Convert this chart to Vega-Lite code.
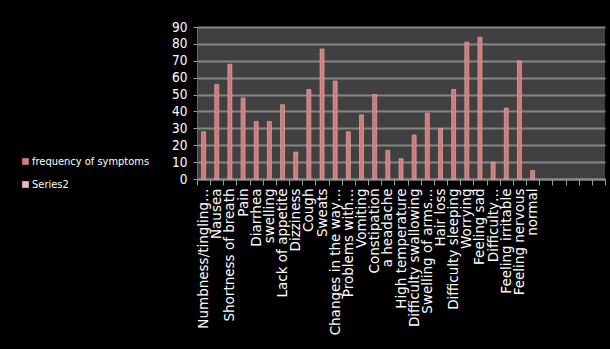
{
  "$schema": "https://vega.github.io/schema/vega-lite/v6.json",
  "autosize": {"type": "none"},
  "width": 408,
  "height": 152,
  "padding": {"left": 197, "top": 27, "right": 5, "bottom": 170},
  "background": "#000000",
  "data": {
    "values": [
      {"symptom": "Numbness/tingling…", "series": "frequency of symptoms", "count": 28},
      {"symptom": "Nausea", "series": "frequency of symptoms", "count": 56},
      {"symptom": "Shortness of breath", "series": "frequency of symptoms", "count": 68},
      {"symptom": "Pain", "series": "frequency of symptoms", "count": 48},
      {"symptom": "Diarrhea", "series": "frequency of symptoms", "count": 34},
      {"symptom": "swelling", "series": "frequency of symptoms", "count": 34},
      {"symptom": "Lack of appetite", "series": "frequency of symptoms", "count": 44},
      {"symptom": "Dizziness", "series": "frequency of symptoms", "count": 16},
      {"symptom": "Cough", "series": "frequency of symptoms", "count": 53},
      {"symptom": "Sweats", "series": "frequency of symptoms", "count": 77},
      {"symptom": "Changes in the way…", "series": "frequency of symptoms", "count": 58},
      {"symptom": "Problems with…", "series": "frequency of symptoms", "count": 28},
      {"symptom": "Vomiting", "series": "frequency of symptoms", "count": 38},
      {"symptom": "Constipation", "series": "frequency of symptoms", "count": 50},
      {"symptom": "a headache", "series": "frequency of symptoms", "count": 17},
      {"symptom": "High temperature", "series": "frequency of symptoms", "count": 12},
      {"symptom": "Difficulty swallowing", "series": "frequency of symptoms", "count": 26},
      {"symptom": "Swelling of arms…", "series": "frequency of symptoms", "count": 39},
      {"symptom": "Hair loss", "series": "frequency of symptoms", "count": 30},
      {"symptom": "Difficulty sleeping", "series": "frequency of symptoms", "count": 53},
      {"symptom": "Worrying", "series": "frequency of symptoms", "count": 81},
      {"symptom": "Feeling sad", "series": "frequency of symptoms", "count": 84},
      {"symptom": "Difficulty…", "series": "frequency of symptoms", "count": 10},
      {"symptom": "Feeling irritable", "series": "frequency of symptoms", "count": 42},
      {"symptom": "Feeling nervous", "series": "frequency of symptoms", "count": 70},
      {"symptom": "normal", "series": "frequency of symptoms", "count": 5}
    ]
  },
  "mark": {"type": "bar", "size": 4, "stroke": "#e9b7b7", "strokeWidth": 0.6},
  "encoding": {
    "x": {
      "field": "symptom",
      "type": "nominal",
      "sort": null,
      "scale": {
        "domain": [
          "Numbness/tingling…", "Nausea", "Shortness of breath", "Pain", "Diarrhea", "swelling",
          "Lack of appetite", "Dizziness", "Cough", "Sweats", "Changes in the way…", "Problems with…",
          "Vomiting", "Constipation", "a headache", "High temperature", "Difficulty swallowing",
          "Swelling of arms…", "Hair loss", "Difficulty sleeping", "Worrying", "Feeling sad",
          "Difficulty…", "Feeling irritable", "Feeling nervous", "normal",
          " ", "  ", "   ", "    ", "     "
        ],
        "paddingInner": 0,
        "paddingOuter": 0
      },
      "axis": {
        "title": null,
        "labelAngle": -90,
        "labelAlign": "right",
        "labelBaseline": "middle",
        "labelFont": "DejaVu Sans",
        "labelFontSize": 13.5,
        "labelColor": "#ffffff",
        "labelPadding": 3,
        "labelOverlap": false,
        "labelLimit": 0,
        "tickColor": "#a0a0a0",
        "tickSize": 6,
        "tickBand": "extent",
        "domainColor": "#8a8a8a",
        "domainWidth": 2,
        "grid": false
      }
    },
    "y": {
      "field": "count",
      "type": "quantitative",
      "scale": {"domain": [0, 90]},
      "axis": {
        "title": null,
        "values": [0, 10, 20, 30, 40, 50, 60, 70, 80, 90],
        "labelFont": "DejaVu Sans Condensed, Roboto",
        "labelFontSize": 13.5,
        "labelColor": "#ffffff",
        "labelPadding": 6,
        "tickColor": "#a0a0a0",
        "tickSize": 4,
        "domainColor": "#6a6a6a",
        "gridColor": "#858585",
        "gridWidth": 2
      }
    },
    "color": {
      "field": "series",
      "type": "nominal",
      "scale": {
        "domain": ["frequency of symptoms", "Series2"],
        "range": ["#d07a7a", "#e6bcbc"]
      },
      "legend": {
        "title": null,
        "orient": "none",
        "legendX": -177,
        "legendY": 129,
        "symbolType": "square",
        "symbolSize": 45,
        "symbolStrokeWidth": 0,
        "labelFont": "DejaVu Sans Condensed, Roboto",
        "labelFontSize": 11,
        "labelColor": "#ffffff",
        "rowPadding": 11,
        "labelOffset": 1,
        "values": ["frequency of symptoms", "Series2"]
      }
    }
  },
  "config": {
    "view": {"fill": "#404040", "stroke": null},
    "legend": {"symbolOpacity": 1}
  }
}
